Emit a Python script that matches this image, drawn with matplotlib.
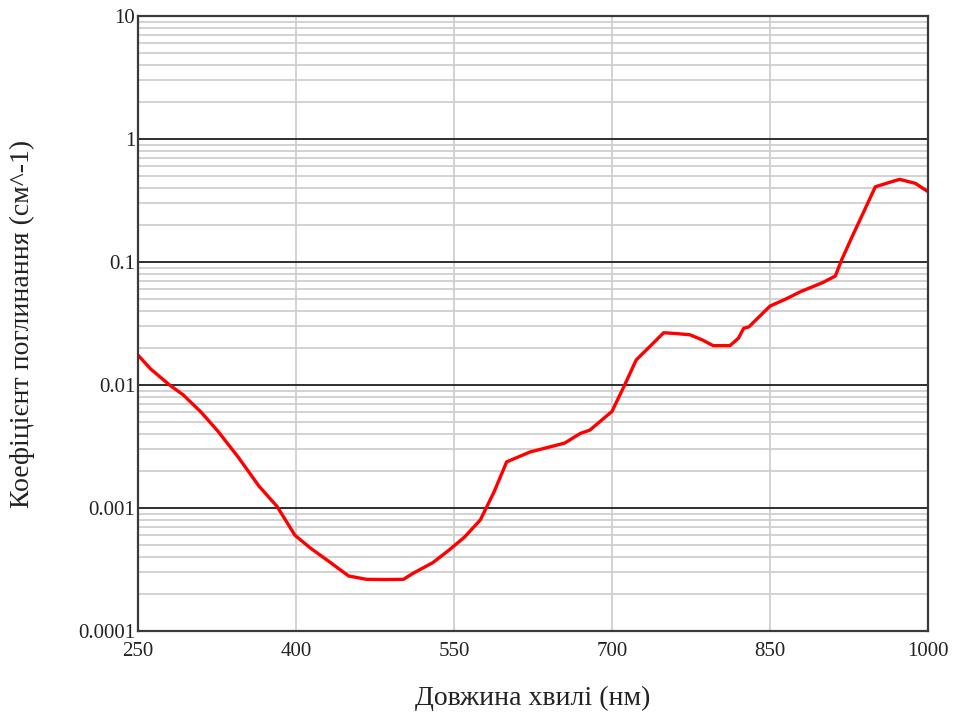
import matplotlib
matplotlib.use("Agg")
import matplotlib.pyplot as plt
import numpy as np

# Absorption coefficient spectrum (wavelength in nm, coefficient in cm^-1)
wavelength = [250, 262, 280, 293, 310, 326, 345, 365, 382, 399, 414, 429,
              450, 467, 485, 502, 511, 530, 546, 560, 575, 588, 600, 622,
              655, 670, 679, 700, 712, 723, 737, 749, 761, 774, 786, 796,
              812, 820, 825, 830, 850, 865, 879, 900, 912, 918, 928, 939,
              950, 962, 973, 988, 1000]
absorption = [0.0175, 0.0135, 0.0100, 0.0083, 0.0060, 0.0042, 0.0026, 0.0015,
              0.00103, 0.00060, 0.00047, 0.00038, 0.00028, 0.000263,
              0.000262, 0.000263, 0.000294, 0.00036, 0.00046, 0.00058,
              0.00080, 0.00135, 0.00237, 0.00285, 0.00337, 0.00404, 0.0043,
              0.0061, 0.0100, 0.0160, 0.0210, 0.0266, 0.0262, 0.0256,
              0.0232, 0.0209, 0.0209, 0.0240, 0.0289, 0.0297, 0.0438,
              0.0500, 0.0574, 0.0680, 0.0769, 0.104, 0.161, 0.256, 0.409,
              0.440, 0.470, 0.436, 0.373]

x_ticks = [250, 400, 550, 700, 850, 1000]
y_ticks = [0.0001, 0.001, 0.01, 0.1, 1, 10]
y_tick_labels = ["0.0001", "0.001", "0.01", "0.1", "1", "10"]

x_label = "Довжина хвилі (нм)"
y_label = "Коефіцієнт поглинання (см^-1)"

serif = ["Liberation Serif", "DejaVu Serif"]
plt.rcParams["font.family"] = serif

fig = plt.figure(figsize=(9.6, 7.18), dpi=100)
ax = fig.add_axes([138 / 960, 1 - 631 / 718, 790 / 960, 615 / 718])

ax.set_yscale("log")
ax.set_xlim(250, 1000)
ax.set_ylim(1e-4, 10)

# grid: light minor decade lines, dark decade lines, light verticals
minor_vals = [m * 10.0 ** e for e in range(-4, 1) for m in range(2, 10)]
for v in minor_vals:
    ax.axhline(v, color="#cfcfcf", lw=1.3, zorder=1)
for v in y_ticks[1:-1]:
    ax.axhline(v, color="#2e2e2e", lw=1.4, zorder=2)
for v in x_ticks[1:-1]:
    ax.axvline(v, color="#cfcfcf", lw=1.3, zorder=1)

ax.plot(wavelength, absorption, color="#ff0000", lw=2.4, zorder=3,
        solid_joinstyle="round")

ax.set_xticks(x_ticks)
ax.set_xticklabels([str(t) for t in x_ticks])
ax.set_yticks(y_ticks)
ax.set_yticklabels(y_tick_labels)
ax.yaxis.set_minor_locator(matplotlib.ticker.NullLocator())
ax.tick_params(axis="both", length=0, labelsize=15, labelcolor="#222222")
ax.tick_params(axis="x", pad=8)
ax.tick_params(axis="y", pad=2)

for s in ax.spines.values():
    s.set_color("#3a3a3a")
    s.set_linewidth(1.6)
    s.set_zorder(4)

ax.set_xlabel(x_label, fontsize=20, color="#222222", va="center")
ax.set_ylabel(y_label, fontsize=20, color="#222222", va="center")
ax.xaxis.set_label_coords(0.5, (631 - 698) / 615)
ax.yaxis.set_label_coords((22 - 138) / 790, 0.5)

fig.savefig("out.png", dpi=100, facecolor="white")
